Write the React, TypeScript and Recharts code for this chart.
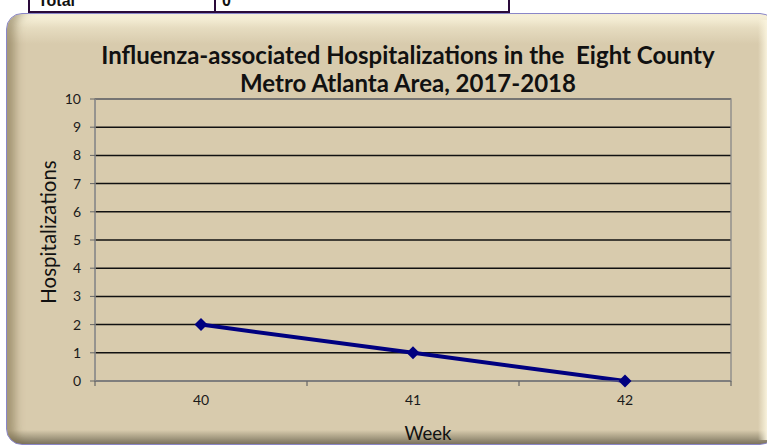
import { CartesianGrid, Label, Line, LineChart, ReferenceArea, XAxis, YAxis } from "recharts";

const weeks = [40, 41, 42];
const hospitalizations = [2, 1, 0];
const yTicks = [0, 1, 2, 3, 4, 5, 6, 7, 8, 9, 10];
// category edges, where Excel draws its tick marks
const weekEdges = [39.5, 40.5, 41.5, 42.5];

const data = weeks.map((week, i) => ({ week, value: hospitalizations[i] }));
const xTicks = [...weekEdges, ...weeks].sort((a, b) => a - b);

const font = "Lato, 'Open Sans', sans-serif";

function WeekTick(props: any) {
  const { x, y, payload } = props;
  if (!Number.isInteger(payload.value)) {
    return <line x1={x} x2={x} y1={y} y2={y + 5} stroke="#666" strokeWidth={1.2} />;
  }
  return (
    <text x={x} y={y + 24} textAnchor="middle" fontSize={14} fill="#1a1a1a" fontFamily={font}>
      {payload.value}
    </text>
  );
}

function Diamond(props: any) {
  const { cx, cy } = props;
  if (cx == null || cy == null) return null;
  const r = 6.5;
  return <path d={`M${cx},${cy - r}L${cx + r},${cy}L${cx},${cy + r}L${cx - r},${cy}Z`} fill="#000080" />;
}

export default function App() {
  return (
    <div style={{ position: "fixed", left: 0, top: 0, width: 767, height: 445, overflow: "hidden", background: "#fff" }}>
      {/* bit of the table above the chart */}
      <div
        style={{
          position: "absolute",
          left: 28,
          top: -20,
          width: 478,
          height: 29,
          border: "2px solid #2a0a3a",
          background: "#fff",
        }}
      />
      <div style={{ position: "absolute", left: 214, top: -20, width: 2, height: 31, background: "#2a0a3a" }} />
      <div
        style={{
          position: "absolute",
          left: 38,
          top: -7,
          fontFamily: "'Liberation Sans', Arial, sans-serif",
          fontWeight: 700,
          fontSize: 16,
          lineHeight: "16px",
          color: "#111",
        }}
      >
        Total
      </div>
      <div
        style={{
          position: "absolute",
          left: 222,
          top: -7,
          fontFamily: "'Liberation Sans', Arial, sans-serif",
          fontWeight: 700,
          fontSize: 16,
          lineHeight: "16px",
          color: "#111",
        }}
      >
        0
      </div>

      <div
        style={{
          position: "absolute",
          left: 6,
          top: 13,
          width: 768,
          height: 430,
          borderRadius: 16,
          border: "1px solid #8a86c8",
          background: "linear-gradient(to bottom, #fbf6df 0px, #e6dcc0 14px, #d8cbad 30px, #d8cbad 416px, #a49a80 424px, #7d7560 430px)",
          boxShadow: "inset 14px 0 10px -6px rgba(120,105,70,0.55)",
        }}
      />
      <div
        style={{
          position: "absolute",
          left: 758,
          top: 20,
          width: 9,
          height: 420,
          background: "linear-gradient(to right, rgba(216,203,173,0), rgba(250,244,222,0.95))",
        }}
      />

      <div
        style={{
          position: "absolute",
          left: 0,
          top: 41,
          width: 816,
          textAlign: "center",
          fontFamily: font,
          fontWeight: 700,
          fontSize: 24,
          lineHeight: "28px",
          color: "#111",
          whiteSpace: "pre",
        }}
      >
        {"Influenza-associated Hospitalizations in the  Eight County\nMetro Atlanta Area, 2017-2018"}
      </div>

      <div
        style={{
          position: "absolute",
          left: 48,
          top: 232,
          transform: "translate(-50%, -50%) rotate(-90deg)",
          fontFamily: font,
          fontSize: 20.5,
          lineHeight: "22px",
          color: "#111",
          whiteSpace: "nowrap",
        }}
      >
        Hospitalizations
      </div>

      <div style={{ position: "absolute", left: 0, top: 0 }}>
        <LineChart width={767} height={445} data={data} margin={{ top: 99, right: 36, bottom: 0, left: 0 }}>
          <CartesianGrid vertical={false} stroke="#111" strokeWidth={1.5} />
          <XAxis
            dataKey="week"
            type="number"
            domain={[39.5, 42.5]}
            ticks={xTicks}
            interval={0}
            tick={<WeekTick />}
            tickLine={false}
            tickSize={0}
            tickMargin={0}
            height={64}
            axisLine={{ stroke: "#888" }}
          >
            <Label
              value="Week"
              position="insideBottom"
              offset={5}
              dx={15}
              style={{ fontFamily: font, fontSize: 18.5, fill: "#111" }}
            />
          </XAxis>
          <YAxis
            domain={[0, 10]}
            ticks={yTicks}
            interval={0}
            width={95}
            tickSize={5}
            tickMargin={9}
            tick={{ fontSize: 14, fill: "#1a1a1a", fontFamily: font }}
            tickLine={{ stroke: "#666" }}
            axisLine={{ stroke: "#888" }}
          />
          <ReferenceArea x1={39.5} x2={42.5} y1={0} y2={10} fill="none" stroke="#888" strokeWidth={1.3} ifOverflow="visible" />
          <Line
            dataKey="value"
            stroke="#000080"
            strokeWidth={4}
            dot={<Diamond />}
            activeDot={false}
            isAnimationActive={false}
          />
        </LineChart>
      </div>
    </div>
  );
}
